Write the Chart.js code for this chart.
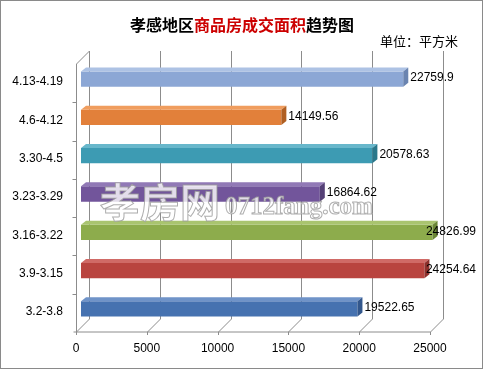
<!DOCTYPE html>
<html>
<head>
<meta charset="utf-8">
<script src="https://cdn.jsdelivr.net/npm/chart.js@4.4.0/dist/chart.umd.min.js"></script>
<style>
  body { margin: 0; background: #fff; }
  #wrap { width: 483px; height: 369px; position: relative; }
</style>
</head>
<body>
<div id="wrap"><canvas id="myChart" width="483" height="369"></canvas></div>
<script>
// weekly periods, oldest first (drawn bottom to top)
const periods = ['3.2-3.8', '3.9-3.15', '3.16-3.22', '3.23-3.29', '3.30-4.5', '4.6-4.12', '4.13-4.19'];
const areas = [19522.65, 24254.64, 24826.99, 16864.62, 20578.63, 14149.56, 22759.9];
const areaLabels = ['19522.65', '24254.64', '24826.99', '16864.62', '20578.63', '14149.56', '22759.9'];
const xTicks = [0, 5000, 10000, 15000, 20000, 25000];

const frontColors = ['#4672b0', '#b9443f', '#8dac4c', '#72559b', '#3d9bb3', '#e2803a', '#8ca7d5'];
const topColors   = ['#6f93c8', '#d06a66', '#a9c46f', '#9179b6', '#68b7cb', '#f09d5e', '#adc2e4'];
const sideColors  = ['#33578c', '#8e302c', '#6a8636', '#544076', '#2a788b', '#b05f22', '#6a84b0'];

const FRONT = { dx: -5, dy: 4 };
const BACK = { dx: 8, dy: -9 };
const DEPTH = { dx: 5, dy: -4 };

function line(ctx, x1, y1, x2, y2) {
  ctx.beginPath();
  ctx.moveTo(x1, y1);
  ctx.lineTo(x2, y2);
  ctx.stroke();
}

// walls, floor and gridlines of the 3D frame
const frame3d = {
  id: 'frame3d',
  beforeDatasetsDraw(chart) {
    const { ctx, chartArea: a, scales } = chart;
    const xs = scales.x;
    ctx.save();
    ctx.strokeStyle = '#8c8c8c';
    ctx.lineWidth = 1;
    const fb = a.bottom + FRONT.dy, bb = a.bottom + BACK.dy;
    const ft = a.top + FRONT.dy, bt = a.top + BACK.dy;
    xTicks.forEach(v => {
      const px = Math.round(xs.getPixelForValue(v)) + 0.5;
      line(ctx, px + BACK.dx, bt, px + BACK.dx, bb);
      line(ctx, px + FRONT.dx, fb, px + BACK.dx, bb);
      line(ctx, px + FRONT.dx, fb, px + FRONT.dx, fb + 3);
    });
    const x0 = Math.round(xs.getPixelForValue(0)) + 0.5;
    const xEnd = Math.round(xs.getPixelForValue(25000)) + 0.5;
    line(ctx, x0 + FRONT.dx - 3, fb, xEnd + FRONT.dx, fb);
    line(ctx, x0 + FRONT.dx, ft, x0 + FRONT.dx, fb);
    line(ctx, x0 + FRONT.dx, ft, x0 + BACK.dx, bt);
    const step = (a.bottom - a.top) / periods.length;
    for (let i = 1; i < periods.length; i++) {
      const py = Math.round(a.top + step * i + FRONT.dy) + 0.5;
      line(ctx, x0 + FRONT.dx - 4, py, x0 + FRONT.dx, py);
    }
    ctx.restore();
  },
  afterDatasetsDraw(chart) {
    const { ctx } = chart;
    const meta = chart.getDatasetMeta(0);
    ctx.save();
    meta.data.forEach((bar, i) => {
      const p = bar.getProps(['x', 'y', 'base', 'height'], true);
      const top = p.y - p.height / 2, bot = p.y + p.height / 2;
      // top face
      ctx.fillStyle = topColors[i];
      ctx.beginPath();
      ctx.moveTo(p.base, top);
      ctx.lineTo(p.base + DEPTH.dx, top + DEPTH.dy);
      ctx.lineTo(p.x + DEPTH.dx, top + DEPTH.dy);
      ctx.lineTo(p.x, top);
      ctx.closePath();
      ctx.fill();
      // end face
      ctx.fillStyle = sideColors[i];
      ctx.beginPath();
      ctx.moveTo(p.x, top);
      ctx.lineTo(p.x + DEPTH.dx, top + DEPTH.dy);
      ctx.lineTo(p.x + DEPTH.dx, bot + DEPTH.dy);
      ctx.lineTo(p.x, bot);
      ctx.closePath();
      ctx.fill();
      // value label, kept inside the picture
      ctx.fillStyle = '#000';
      ctx.font = '12px "Liberation Sans", Arial, sans-serif';
      ctx.textAlign = 'left';
      ctx.textBaseline = 'middle';
      const w = ctx.measureText(areaLabels[i]).width;
      const lx = Math.min(p.x + DEPTH.dx + 2, 476 - w);
      ctx.fillText(areaLabels[i], lx, p.y - 1);
    });

    // site watermark
    ctx.globalAlpha = 0.8;
    ctx.fillStyle = '#ffffff';
    ctx.strokeStyle = '#9a9a9a';
    ctx.lineWidth = 1;
    ctx.textAlign = 'left';
    ctx.textBaseline = 'alphabetic';
    ctx.font = 'bold 40px "Noto Sans CJK SC", sans-serif';
    ctx.fillText('孝房网', 100, 217);
    ctx.strokeText('孝房网', 100, 217);
    ctx.font = 'bold 25px "Liberation Serif", serif';
    ctx.fillText('0712fang.com', 225, 214);
    ctx.strokeText('0712fang.com', 225, 214);
    ctx.restore();
  },
  afterDraw(chart) {
    const { ctx } = chart;
    ctx.save();
    ctx.textBaseline = 'middle';
    // title, with the middle part in red
    const parts = [['孝感地区', '#000'], ['商品房成交面积', '#cc0000'], ['趋势图', '#000']];
    ctx.font = 'bold 16px "Noto Sans CJK SC", sans-serif';
    const total = parts.reduce((s, t) => s + ctx.measureText(t[0]).width, 0);
    let x = 242 - total / 2;
    parts.forEach(([t, c]) => {
      ctx.fillStyle = c;
      ctx.textAlign = 'left';
      ctx.fillText(t, x, 25);
      x += ctx.measureText(t).width;
    });
    ctx.font = '13px "Noto Sans CJK SC", sans-serif';
    ctx.fillStyle = '#000';
    ctx.textAlign = 'right';
    ctx.fillText('单位：平方米', 458, 41);
    // outer border
    ctx.strokeStyle = '#8a8a8a';
    ctx.lineWidth = 1;
    ctx.strokeRect(0.5, 0.5, 482, 368);
    ctx.restore();
  }
};

const ctx = document.getElementById('myChart').getContext('2d');
const myChart = new Chart(ctx, {
  type: 'bar',
  data: {
    labels: periods,
    datasets: [{
      label: '成交面积',
      data: areas,
      backgroundColor: frontColors,
      borderWidth: 0,
      barPercentage: 0.4,
      categoryPercentage: 1
    }]
  },
  options: {
    indexAxis: 'y',
    responsive: false,
    animation: false,
    layout: { padding: { top: 60, right: 48, left: 0, bottom: 0 } },
    plugins: {
      legend: { display: false },
      tooltip: { enabled: false }
    },
    scales: {
      x: {
        min: 0,
        max: 25000,
        afterBuildTicks: (scale) => { scale.ticks = xTicks.map(v => ({ value: v })); },
        afterFit: (scale) => { scale.height = 41; },
        grid: { display: false, drawTicks: false },
        border: { display: false },
        ticks: {
          color: '#000',
          font: { family: '"Liberation Sans", Arial, sans-serif', size: 12 },
          padding: 13,
          labelOffset: -5,
          maxRotation: 0,
          callback: (v) => String(v)
        }
      },
      y: {
        reverse: true,
        afterFit: (scale) => { scale.width = 81; },
        grid: { display: false, drawTicks: false },
        border: { display: false },
        ticks: {
          color: '#000',
          font: { family: '"Liberation Sans", Arial, sans-serif', size: 12 },
          padding: 18,
          labelOffset: 3
        }
      }
    }
  },
  plugins: [frame3d]
});
</script>
</body>
</html>
